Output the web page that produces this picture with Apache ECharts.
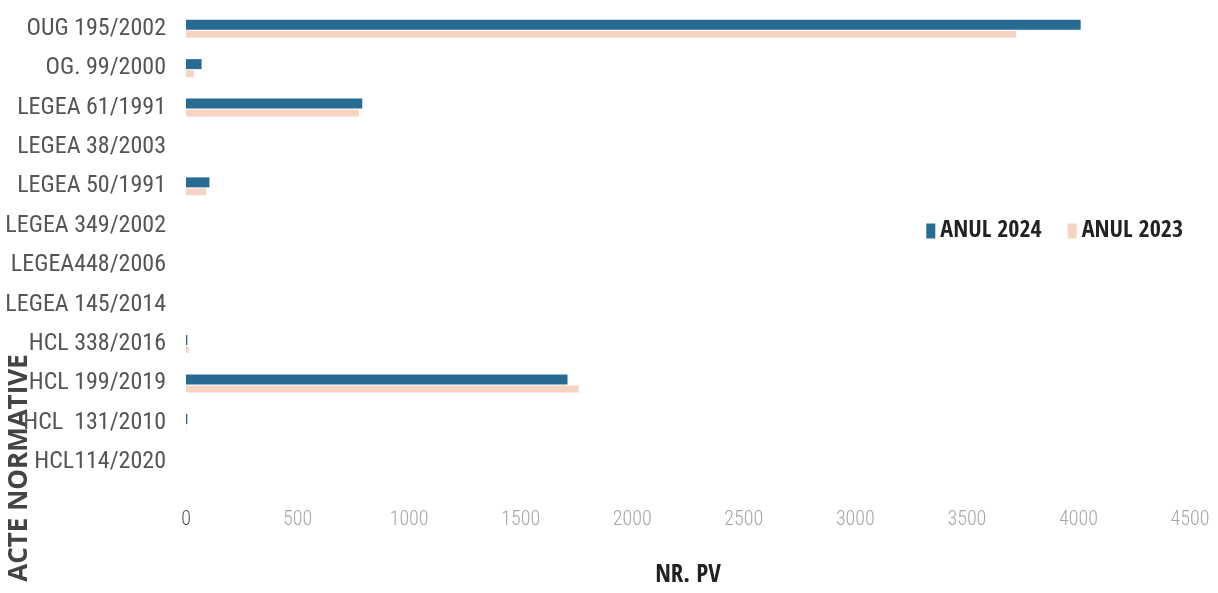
<!DOCTYPE html>
<html><head><meta charset="utf-8">
<script src="https://cdn.jsdelivr.net/npm/echarts@6/dist/echarts.min.js"></script>
<style>html,body{margin:0;padding:0;background:#fff}#c{width:1218px;height:593px}</style>
</head><body><div id="c"></div>
<script>
const categories = ["OUG 195/2002","OG. 99/2000","LEGEA 61/1991","LEGEA 38/2003","LEGEA 50/1991","LEGEA 349/2002","LEGEA448/2006","LEGEA 145/2014","HCL 338/2016","HCL 199/2019","HCL  131/2010","HCL114/2020"];
const anul2024 = [4010, 70, 790, 0, 105, 0, 0, 0, 6, 1710, 6, 0];
const anul2023 = [3720, 35, 775, 0, 90, 0, 0, 0, 12, 1760, 2, 0];
const xTicks = [0,500,1000,1500,2000,2500,3000,3500,4000,4500];

const cond = "'Roboto Condensed','Liberation Sans Narrow',sans-serif";
const condBold = "'Open Sans Condensed','Roboto Condensed',sans-serif";
const chart = echarts.init(document.getElementById('c'));
chart.setOption({
  animation: false,
  backgroundColor: '#fff',
  grid: {left: 186, right: 28, top: 9, bottom: 109},
  legend: {
    data: ['ANUL 2024','ANUL 2023'],
    right: 30, top: 214, itemWidth: 9, itemHeight: 15, itemGap: 26,
    icon: 'rect',
    textStyle: {fontFamily: condBold, fontSize: 24, fontWeight: 'bold', color: '#222'}
  },
  xAxis: {
    type: 'value', min: 0, max: 4500, interval: 500,
    axisLine: {show: false}, axisTick: {show: false}, splitLine: {show: false},
    axisLabel: {margin: 28, fontFamily: cond, fontSize: 20, fontWeight: 300, color: '#a6a6a6',
      formatter: v => !xTicks.includes(v) ? '' : (v === 0 ? '{z|0}' : String(v)),
      rich: {z: {fontFamily: cond, fontSize: 20, color: '#555'}}},
    name: 'NR. PV', nameLocation: 'middle', nameGap: 81,
    nameTextStyle: {fontFamily: condBold, fontSize: 25, fontWeight: 'bold', color: '#222'}
  },
  yAxis: {
    type: 'category', data: categories, inverse: true,
    axisLine: {show: false}, axisTick: {show: false}, splitLine: {show: false},
    axisLabel: {margin: 20, fontFamily: cond, fontSize: 24, color: '#555'}
  },
  graphic: [{
    type: 'text', x: 20, y: 468, rotation: Math.PI/2,
    style: {text: 'ACTE NORMATIVE', x: 0, y: 0, align: 'center', verticalAlign: 'middle',
      font: "bold 26px 'Open Sans', sans-serif", fill: '#444'}
  }],
  series: [
    {name: 'ANUL 2024', type: 'bar', data: anul2024, barWidth: 10, barGap: '10%',
     itemStyle: {color: '#276a92'}},
    {name: 'ANUL 2023', type: 'bar', data: anul2023, barWidth: 7,
     itemStyle: {color: '#f7d3c4'}}
  ]
});
</script></body></html>
